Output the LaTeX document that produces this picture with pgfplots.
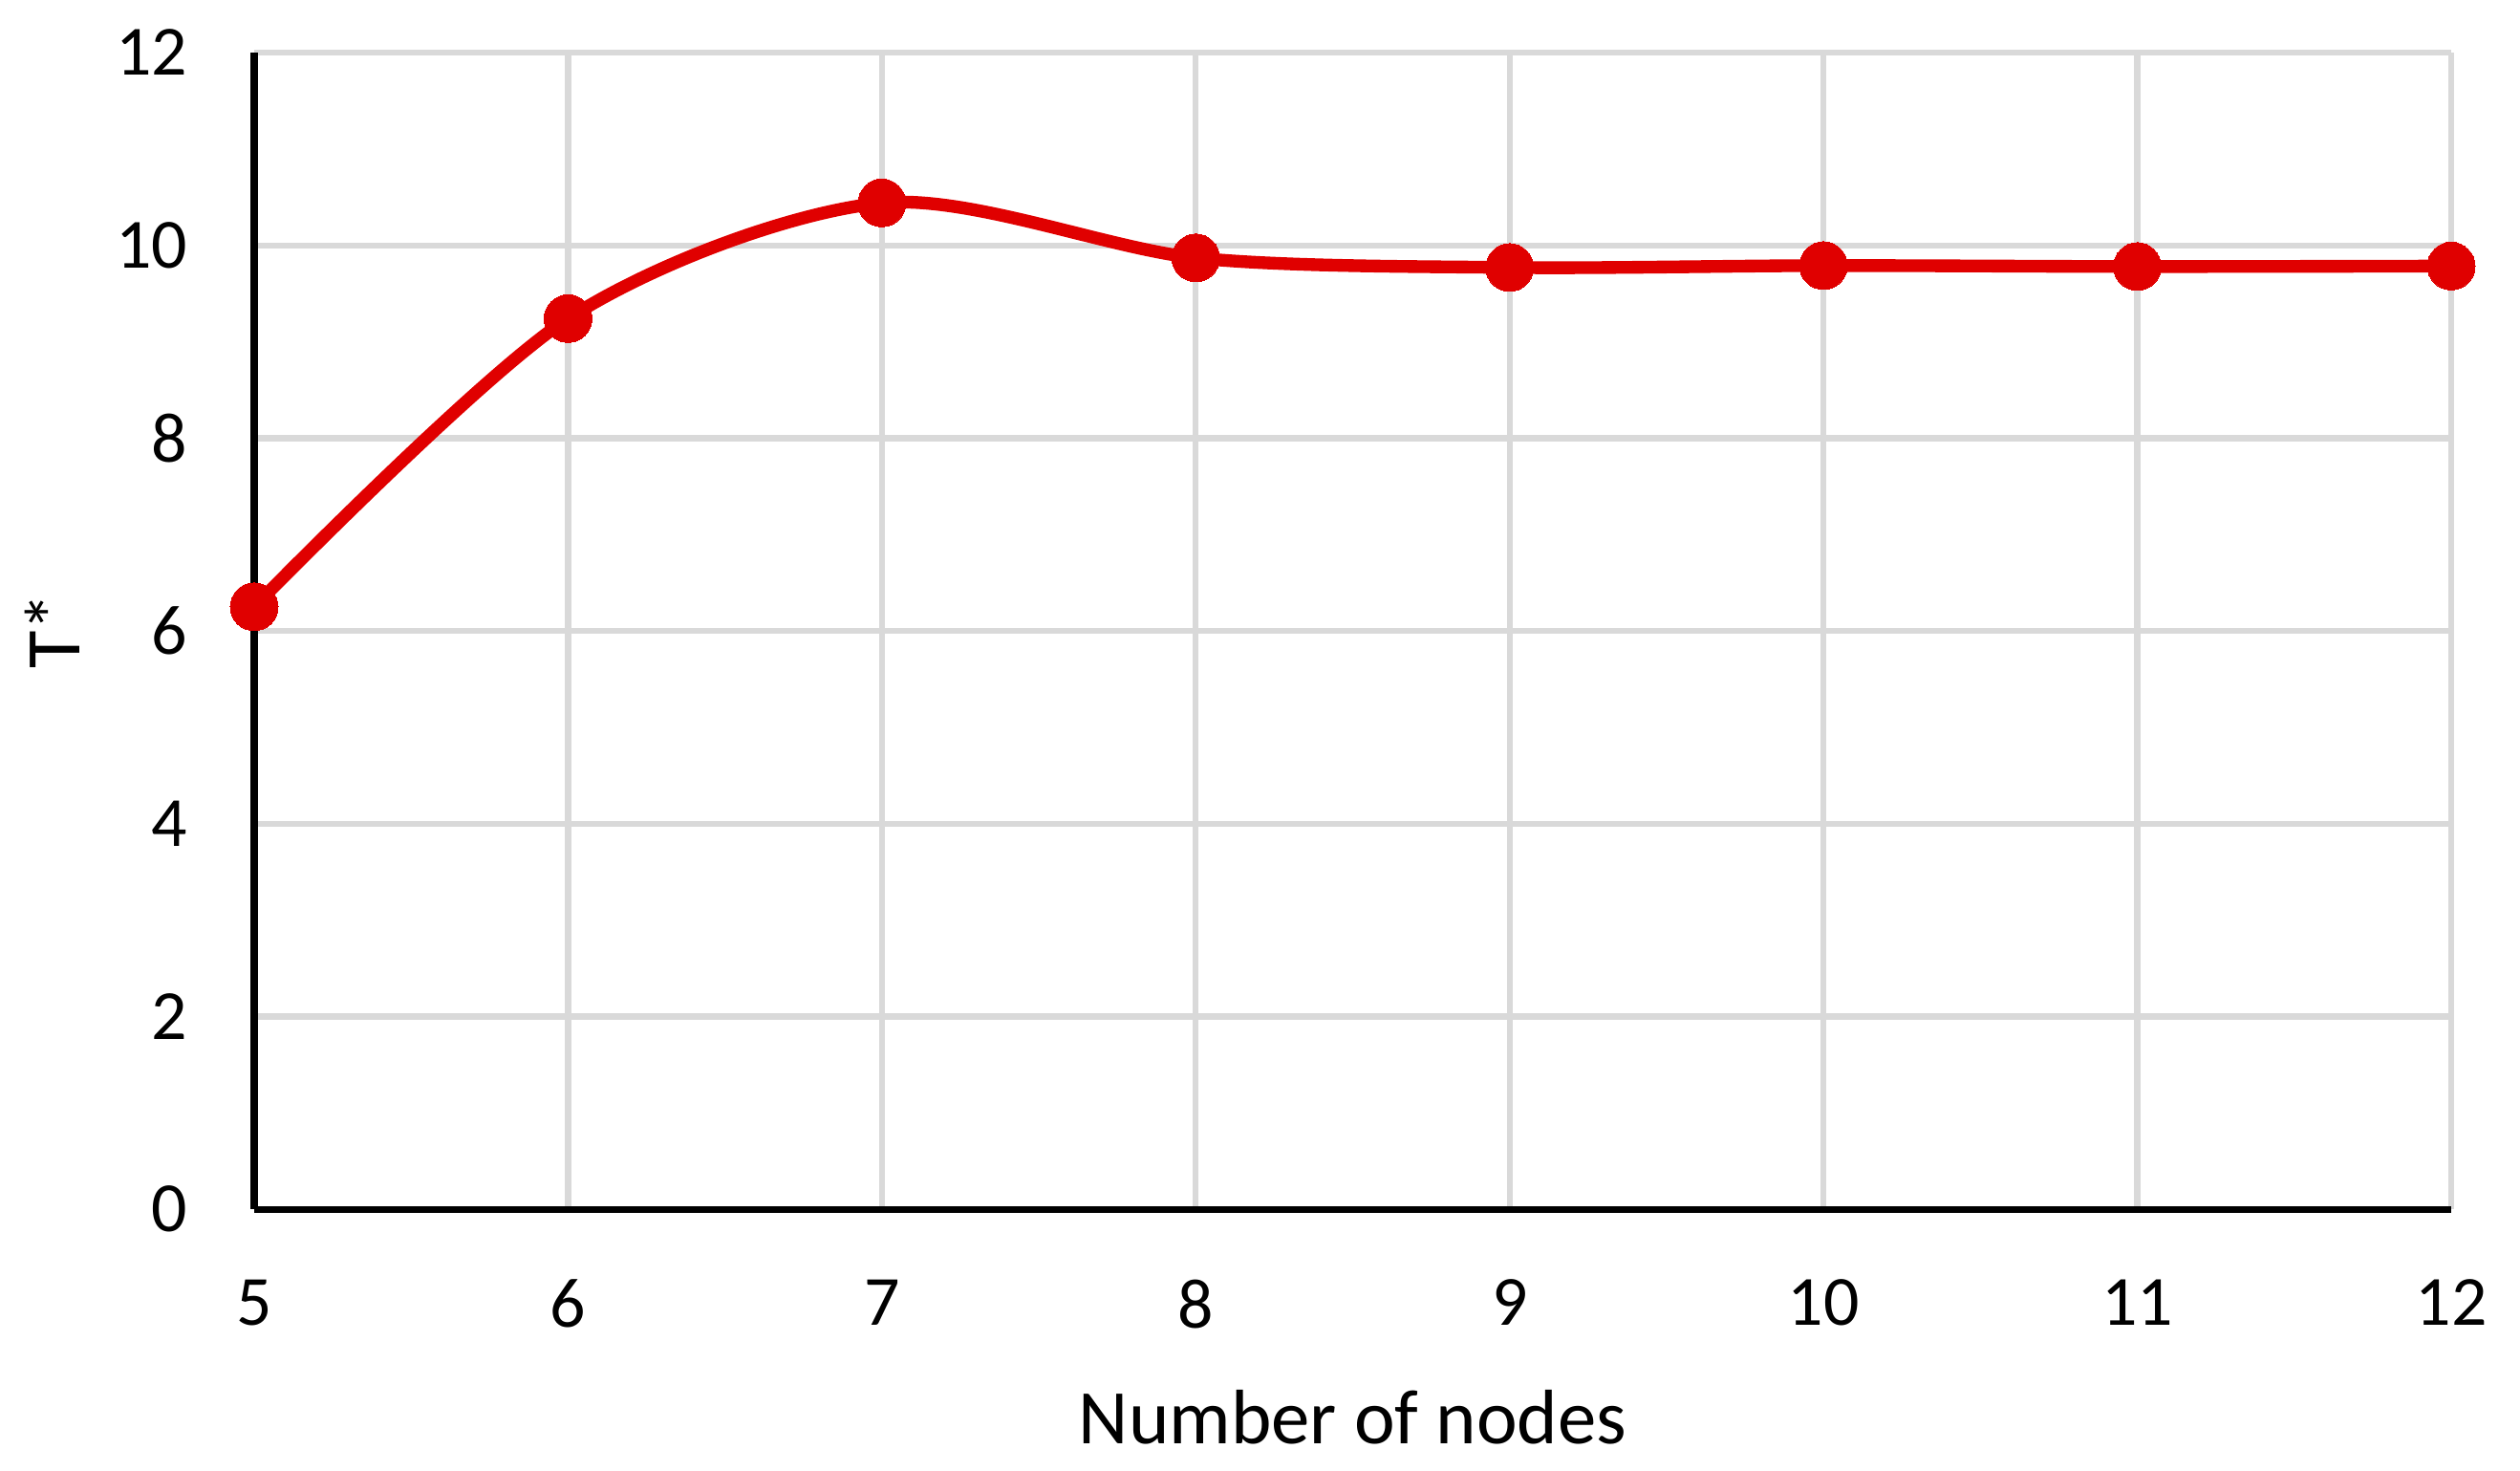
\documentclass[border=0pt]{standalone}
\usepackage{pgfplots}
\pgfplotsset{compat=1.18}
\usepackage{fontspec}
\setmainfont{Carlito}

\definecolor{linered}{RGB}{224,0,0}
\definecolor{gridgray}{RGB}{217,217,217}

\begin{document}
\begin{tikzpicture}
    \begin{axis}[
        width=229.9mm, height=121mm, scale only axis,
        xmin=5, xmax=12, ymin=0, ymax=12,
        xtick={5,6,7,8,9,10,11,12},
        ytick={0,2,4,6,8,10,12},
        axis lines*=left,
        axis line style={black, line width=2pt},
        grid=major,
        major grid style={gridgray, line width=1.8pt},
        major tick length=0pt,
        /pgf/number format/assume math mode=true,
        tick label style={font=\fontsize{21}{25}\selectfont, inner sep=0pt},
        xticklabel style={anchor=north, yshift=-7.3mm},
        yticklabel style={anchor=east, xshift=-6.9mm},
        xlabel={Number of nodes},
        ylabel={T*},
        label style={font=\fontsize{23}{28}\selectfont, inner sep=0pt},
        xlabel style={at={(axis description cs:0.5,-0.180)}, anchor=center},
        ylabel style={at={(axis description cs:-0.092,0.5)}, anchor=center},
        clip=false,
    ]
    \addplot[linered, line width=3.8pt, smooth, tension=0.5,
        mark=*, mark size=2.5mm, mark options={fill=linered, draw=linered, line width=0pt}]
    coordinates {
    (5, 6.25)
    (6, 9.24)
    (7, 10.44)
    (8, 9.87)
    (9, 9.77)
    (10, 9.79)
    (11, 9.78)
    (12, 9.785)
    };
    \coordinate (sw) at (rel axis cs:0,0);
    \coordinate (ne) at (rel axis cs:1,1);
    \end{axis}
    \pgfresetboundingbox
    \path[use as bounding box] ([xshift=-26.6mm, yshift=-27.3mm]sw) rectangle ([xshift=7.2mm, yshift=5.5mm]ne);
\end{tikzpicture}
\end{document}
